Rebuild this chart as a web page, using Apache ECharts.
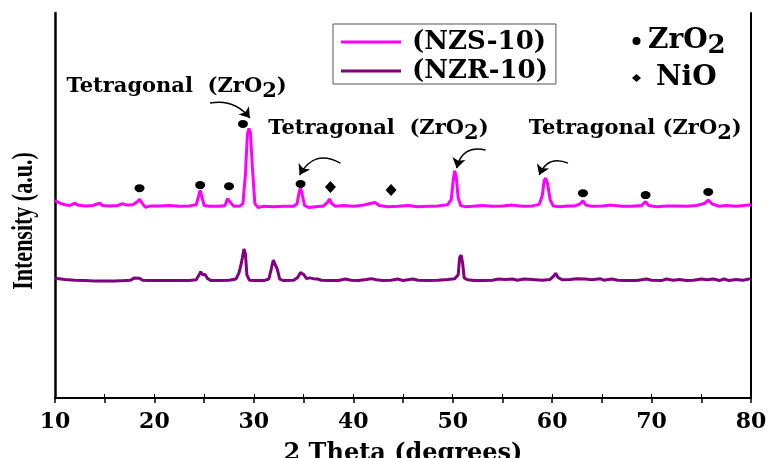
<!DOCTYPE html>
<html>
<head>
<meta charset="utf-8">
<title>XRD NZS-10 / NZR-10</title>
<script src="https://cdn.jsdelivr.net/npm/echarts@6/dist/echarts.min.js"></script>
<style>
  html, body { margin: 0; padding: 0; background: #fff; }
  #main { width: 769px; height: 458px; }
</style>
</head>
<body>
<div id="main"></div>
<script>
// 2 theta / intensity (intensity in arbitrary units, offset stacked)
var nzsTheta = [10.0, 10.5, 11.0, 11.5, 12.0, 12.3, 13.0, 13.8, 14.5, 14.8, 15.5, 16.3, 16.8, 17.2, 17.8, 18.2, 18.5, 18.8, 19.1, 19.6,
  20.5, 21.5, 22.5, 23.5, 24.2, 24.45, 24.6, 24.8, 25.0, 25.5, 26.5, 27.1, 27.35, 27.5, 27.7, 28.0, 28.6, 28.9, 29.15, 29.35,
  29.5, 29.65, 29.85, 30.1, 30.4, 31.0, 32.0, 33.0, 34.0, 34.35, 34.55, 34.7, 34.85, 35.1, 35.5, 36.2, 37.0, 37.4, 37.6, 37.8,
  38.2, 39.0, 40.0, 41.0, 41.8, 42.2, 42.6, 43.5, 44.5, 45.5, 46.5, 47.5, 48.5, 49.5, 49.85, 50.05, 50.2, 50.35, 50.55, 50.8,
  51.2, 52.0, 53.0, 54.0, 55.0, 56.0, 57.0, 58.0, 58.7, 59.0, 59.2, 59.35, 59.55, 59.8, 60.1, 60.8, 61.5, 62.3, 62.8, 63.1,
  63.4, 64.0, 65.0, 66.0, 67.0, 68.0, 69.0, 69.4, 69.7, 70.5, 71.5, 72.5, 73.5, 74.5, 75.3, 75.7, 76.1, 76.8, 77.5, 78.5,
  79.3, 80.0];
var nzsIntensity = [51.3, 50.6, 50.2, 50.0, 50.6, 50.1, 49.9, 50.0, 50.6, 50.0, 49.9, 50.0, 50.5, 50.1, 50.2, 50.8, 51.6, 50.5, 49.5, 49.9,
  49.9, 50.0, 49.8, 49.9, 50.2, 52.5, 54.0, 52.0, 50.0, 49.8, 49.8, 50.0, 51.8, 52.2, 50.6, 49.8, 49.9, 50.5, 58.0, 68.5,
  70.0, 69.0, 60.0, 50.5, 49.5, 49.8, 49.7, 49.8, 49.8, 50.5, 53.5, 54.6, 53.0, 50.0, 49.5, 49.7, 49.9, 50.8, 51.7, 50.6,
  49.8, 50.0, 49.8, 50.1, 50.6, 50.8, 50.0, 49.7, 49.8, 50.0, 49.7, 49.8, 49.9, 50.2, 51.5, 56.5, 59.0, 57.5, 52.0, 50.0,
  49.7, 49.8, 50.0, 49.8, 49.9, 50.1, 49.8, 49.9, 50.3, 52.5, 56.5, 57.1, 55.5, 51.5, 49.9, 49.7, 49.9, 49.9, 50.4, 51.2,
  50.1, 49.8, 49.9, 50.1, 49.8, 49.8, 50.0, 51.0, 50.0, 49.7, 49.9, 49.9, 49.8, 50.0, 50.5, 51.4, 50.4, 49.8, 50.0, 49.8,
  50.0, 50.2];

var nzrTheta = [10.0, 11.0, 12.0, 13.0, 14.0, 15.0, 16.0, 17.0, 17.6, 18.0, 18.5, 18.8, 19.5, 20.5, 21.5, 22.5, 23.5, 24.2, 24.5, 24.65,
  24.85, 25.1, 25.35, 25.7, 26.5, 27.5, 28.2, 28.5, 28.7, 28.85, 29.0, 29.15, 29.3, 29.55, 30.2, 31.0, 31.5, 31.75, 31.95, 32.15,
  32.35, 32.6, 33.0, 34.0, 34.4, 34.7, 35.0, 35.3, 35.6, 35.8, 36.0, 36.4, 36.8, 37.5, 38.5, 39.2, 39.8, 40.5, 41.3, 41.8,
  42.3, 43.0, 43.8, 44.5, 45.0, 45.5, 46.0, 46.5, 47.5, 48.5, 49.5, 50.2, 50.55, 50.7, 50.85, 51.0, 51.15, 51.5, 52.2, 53.0,
  54.0, 54.6, 55.3, 56.0, 56.5, 57.2, 58.0, 59.0, 59.8, 60.2, 60.35, 60.6, 61.0, 61.8, 62.5, 63.3, 64.0, 64.8, 65.2, 66.0,
  66.6, 67.5, 68.5, 69.5, 70.0, 71.0, 71.5, 72.2, 72.8, 73.5, 74.2, 75.0, 75.6, 76.2, 76.8, 77.3, 77.8, 78.5, 79.2, 80.0];
var nzrIntensity = [31.1, 30.8, 30.6, 30.5, 30.4, 30.4, 30.4, 30.5, 30.6, 31.2, 31.1, 30.6, 30.5, 30.5, 30.5, 30.5, 30.5, 30.7, 32.0, 32.8,
  32.0, 32.1, 31.0, 30.5, 30.5, 30.6, 30.9, 32.5, 34.5, 36.5, 38.7, 37.5, 32.0, 30.6, 30.5, 30.5, 30.9, 33.5, 35.8, 35.6,
  33.5, 30.9, 30.5, 30.6, 31.3, 32.6, 32.1, 31.0, 31.2, 31.7, 31.0, 30.9, 30.6, 30.5, 30.5, 30.9, 30.6, 30.5, 30.8, 31.0,
  30.7, 30.5, 30.6, 30.9, 30.5, 30.7, 30.9, 30.6, 30.5, 30.6, 30.8, 31.0, 32.0, 36.5, 37.1, 35.0, 31.2, 30.7, 30.5, 30.5,
  30.6, 30.9, 30.8, 30.9, 30.6, 30.9, 30.8, 30.6, 30.8, 31.8, 32.4, 31.3, 30.7, 30.8, 31.0, 30.9, 30.7, 31.0, 30.6, 30.9,
  30.6, 30.5, 30.5, 30.9, 30.6, 30.5, 30.9, 30.6, 30.8, 30.5, 30.6, 30.9, 30.7, 30.9, 30.5, 30.9, 30.5, 30.8, 30.6, 31.0];

// phase markers above the NZS-10 peaks
var zro2Theta = [18.5, 24.6, 27.5, 28.9, 34.7, 63.1, 69.4, 75.7];
var zro2Height = [54.5, 55.3, 55.0, 71.2, 55.6, 53.2, 52.7, 53.5];
var nioTheta = [37.7, 43.8];
var nioHeight = [54.8, 54.0];

// curved arrows: [start theta, start y, end theta, end y, curveness]
var arrowPaths = [
  [25.6, 76.6, 29.6, 72.7, 0.3],
  [38.7, 61.0, 34.6, 57.9, -0.5],
  [53.3, 64.4, 50.4, 59.7, -0.5],
  [61.6, 61.0, 58.7, 57.9, -0.5]
];

// "Tetragonal (ZrO2)" notes: left end of the text in data units
var noteTheta = [11.1, 31.4, 57.6];
var noteHeight = [81.0, 70.1, 70.1];
var noteText = ['Tetragonal  ', 'Tetragonal  ', 'Tetragonal '];

var xTicks = [10, 20, 30, 40, 50, 60, 70, 80];

function zip(a, b) {
  var out = [];
  for (var i = 0; i < a.length; i++) {
    out.push([a[i], b[i]]);
  }
  return out;
}

var serifBold = '"DejaVu Serif", serif';
var timesBold = '"Liberation Serif", "Times New Roman", serif';

var arrowData = arrowPaths.map(function (p) {
  return {
    coords: [[p[0], p[1]], [p[2], p[3]]],
    lineStyle: { curveness: p[4] }
  };
});

var noteData = noteTheta.map(function (t, i) {
  return { value: [t, noteHeight[i]], note: noteText[i] };
});

var myChart = echarts.init(document.getElementById('main'));

var option = {
  animation: false,
  backgroundColor: '#fff',
  grid: { left: 55, right: 18, top: 13, bottom: 60, containLabel: false, outerBoundsMode: 'none' },
  legend: [{
    orient: 'vertical',
    left: 333,
    top: 24,
    data: ['NZS-10', 'NZR-10'],
    icon: 'rect',
    itemWidth: 60,
    itemHeight: 3,
    itemGap: 3,
    padding: [5, 8, 0, 8],
    borderColor: '#555',
    borderWidth: 1,
    formatter: function (name) { return '(' + name + ')'; },
    textStyle: { fontFamily: serifBold, fontWeight: 'bold', fontSize: 26, lineHeight: 22, color: '#000', padding: [0, 0, 0, 6] }
  }, {
    orient: 'vertical',
    left: 627,
    top: 22,
    data: ['ZrO2', 'NiO'],
    itemWidth: 9,
    itemHeight: 8,
    itemGap: 5,
    formatter: function (name) {
      return name === 'ZrO2' ? '{b|ZrO}{s|2}' : '{n|NiO}';
    },
    textStyle: {
      color: '#000',
      rich: {
        b: { fontFamily: serifBold, fontWeight: 'bold', fontSize: 28, color: '#000', padding: [0, 0, 0, 2] },
        s: { fontFamily: serifBold, fontWeight: 'bold', fontSize: 26, color: '#000', padding: [10, 0, 0, 0] },
        n: { fontFamily: serifBold, fontWeight: 'bold', fontSize: 28, color: '#000', padding: [0, 0, 0, 10] }
      }
    }
  }],
  xAxis: [{
    type: 'value',
    min: 10,
    max: 80,
    interval: 10,
    name: '2 Theta (degrees)',
    nameLocation: 'middle',
    nameGap: 44,
    nameTextStyle: { fontFamily: serifBold, fontWeight: 'bold', fontSize: 24, color: '#000' },
    axisLine: { show: true, lineStyle: { color: '#000', width: 2 } },
    axisTick: { show: true, inside: false, length: 5, lineStyle: { color: '#000', width: 1.5 } },
    minorTick: { show: true, splitNumber: 2, length: 5, lineStyle: { color: '#000', width: 1.5 } },
    axisLabel: {
      margin: 13,
      fontFamily: serifBold,
      fontWeight: 'bold',
      fontSize: 22,
      color: '#000',
      formatter: function (v) { return xTicks.indexOf(v) >= 0 ? String(v) : ''; }
    },
    splitLine: { show: false }
  }, {
    type: 'value',
    position: 'top',
    min: 10,
    max: 80,
    interval: 10,
    axisLine: { show: true, lineStyle: { color: '#000', width: 1.5 } },
    axisTick: { show: true, inside: false, length: 4, lineStyle: { color: '#000', width: 1 } },
    minorTick: { show: true, splitNumber: 2, length: 4, lineStyle: { color: '#000', width: 1 } },
    axisLabel: { show: false },
    splitLine: { show: false }
  }],
  yAxis: [{
    type: 'value',
    min: 0,
    max: 100,
    axisLine: { show: true, lineStyle: { color: '#000', width: 2.5 } },
    axisTick: { show: false },
    axisLabel: { show: false },
    splitLine: { show: false }
  }, {
    type: 'value',
    position: 'right',
    min: 0,
    max: 100,
    axisLine: { show: true, lineStyle: { color: '#000', width: 2 } },
    axisTick: { show: false },
    axisLabel: { show: false },
    splitLine: { show: false }
  }],
  graphic: [{
    type: 'text',
    x: 25,
    y: 221,
    rotation: Math.PI / 2,
    scaleY: 1.3,
    style: {
      legacy: false,
      text: 'Intensity (a.u.)',
      font: 'bold 22px ' + timesBold,
      fill: '#000',
      align: 'center',
      verticalAlign: 'middle'
    }
  }],
  series: [{
    name: 'NZS-10',
    type: 'line',
    data: zip(nzsTheta, nzsIntensity),
    showSymbol: false,
    color: '#ff00ff',
    lineStyle: { width: 3, color: '#ff00ff' },
    z: 3
  }, {
    name: 'NZR-10',
    type: 'line',
    data: zip(nzrTheta, nzrIntensity),
    showSymbol: false,
    color: '#800080',
    lineStyle: { width: 3, color: '#800080' },
    z: 3
  }, {
    name: 'ZrO2',
    type: 'scatter',
    data: zip(zro2Theta, zro2Height),
    symbol: 'circle',
    symbolSize: [10, 8],
    itemStyle: { color: '#000', opacity: 1 },
    z: 4
  }, {
    name: 'NiO',
    type: 'scatter',
    data: zip(nioTheta, nioHeight),
    symbol: 'diamond',
    symbolSize: [11, 12],
    itemStyle: { color: '#000', opacity: 1 },
    z: 4
  }, {
    name: 'arrows',
    type: 'lines',
    coordinateSystem: 'cartesian2d',
    silent: true,
    symbol: ['none', 'arrow'],
    symbolSize: 10,
    lineStyle: { color: '#000', width: 1.5, opacity: 1 },
    data: arrowData,
    z: 5
  }, {
    name: 'notes',
    type: 'scatter',
    silent: true,
    symbolSize: 1,
    itemStyle: { color: '#fff', opacity: 1 },
    data: noteData,
    label: {
      show: true,
      position: 'right',
      distance: 0,
      color: '#000',
      opacity: 1,
      formatter: function (p) {
        return '{t|' + p.data.note + '(ZrO}{s|2}{t|)}';
      },
      rich: {
        t: { fontFamily: serifBold, fontWeight: 'bold', fontSize: 21, color: '#000' },
        s: { fontFamily: serifBold, fontWeight: 'bold', fontSize: 21, color: '#000', padding: [10, 0, 0, 0] }
      }
    },
    z: 5
  }]
};

myChart.setOption(option);

window.addEventListener('resize', function () {
  myChart.resize();
});
</script>
</body>
</html>
